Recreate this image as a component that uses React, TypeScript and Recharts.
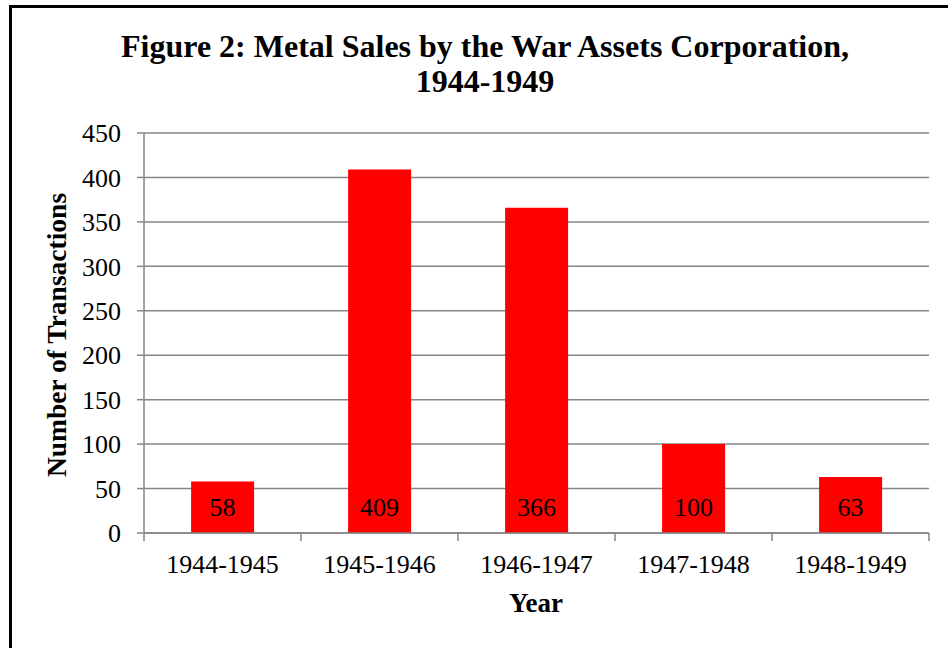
import React from "react";
import { BarChart, Bar, XAxis, YAxis, CartesianGrid, LabelList } from "recharts";

const YEARS = ["1944-1945", "1945-1946", "1946-1947", "1947-1948", "1948-1949"];
const TRANSACTIONS = [58, 409, 366, 100, 63];
const Y_TICKS = [0, 50, 100, 150, 200, 250, 300, 350, 400, 450];

const FONT = '"Liberation Serif", "Times New Roman", serif';
const GRID = "#868686";

const W = 948;
const H = 648;
const MARGIN = { top: 133, right: 19, bottom: 75, left: 84 };
const Y_AXIS_W = 60;
const X_AXIS_H = 40;
const PLOT_W = W - MARGIN.left - MARGIN.right - Y_AXIS_W;
const BAND = PLOT_W / YEARS.length;

const data = YEARS.map((year, i) => ({ year, count: TRANSACTIONS[i] }));

// category label in the middle, tick marks on the band edges (Excel style)
function YearTick(props: any) {
  const { x, y, payload, index } = props;
  const left = x - BAND / 2;
  return (
    <g>
      <line x1={left} y1={y} x2={left} y2={y + 8} stroke={GRID} strokeWidth={1.5} />
      {index === YEARS.length - 1 && (
        <line x1={x + BAND / 2} y1={y} x2={x + BAND / 2} y2={y + 8} stroke={GRID} strokeWidth={1.5} />
      )}
      <text x={x} y={y + 40} textAnchor="middle" fontFamily={FONT} fontSize={26} fill="#000">
        {payload.value}
      </text>
    </g>
  );
}

function BaseLabel(props: any) {
  const { x, y, width, height, value } = props;
  return (
    <text
      x={x + width / 2}
      y={y + height - 26}
      textAnchor="middle"
      dominantBaseline="central"
      fontFamily={FONT}
      fontSize={26}
      fill="#000"
    >
      {value}
    </text>
  );
}

export default function App() {
  return (
    <div style={{ position: "absolute", left: 0, top: 0, width: W, height: H, background: "#fff" }}>
      <BarChart width={W} height={H} data={data} margin={MARGIN} barCategoryGap="30%">
        <CartesianGrid vertical={false} stroke={GRID} strokeWidth={1.5} />
        <XAxis
          dataKey="year"
          height={X_AXIS_H}
          interval={0}
          axisLine={{ stroke: GRID, strokeWidth: 1.5 }}
          tickLine={false}
          tickSize={0}
          tickMargin={0}
          tick={<YearTick />}
        />
        <YAxis
          width={Y_AXIS_W}
          domain={[0, 450]}
          ticks={Y_TICKS}
          interval={0}
          axisLine={{ stroke: GRID, strokeWidth: 1.5 }}
          tickLine={{ stroke: GRID, strokeWidth: 1.5 }}
          tickSize={7}
          tickMargin={16}
          tick={{ fontFamily: FONT, fontSize: 26, fill: "#000" }}
        />
        <Bar dataKey="count" fill="#ff0000" isAnimationActive={false}>
          <LabelList dataKey="count" content={<BaseLabel />} />
        </Bar>
      </BarChart>

      <svg
        width={W}
        height={H}
        style={{ position: "absolute", left: 0, top: 0, pointerEvents: "none" }}
      >
        <line x1={10.5} y1={5} x2={10.5} y2={H} stroke="#000" strokeWidth={3} />
        <line x1={9} y1={6.5} x2={W} y2={6.5} stroke="#000" strokeWidth={3} />
        <text x={485} y={57} textAnchor="middle" fontFamily={FONT} fontWeight="bold" fontSize={32}>
          Figure 2: Metal Sales by the War Assets Corporation,
        </text>
        <text x={485} y={92} textAnchor="middle" fontFamily={FONT} fontWeight="bold" fontSize={32}>
          1944-1949
        </text>
        <text
          transform="translate(66,335) rotate(-90)"
          textAnchor="middle"
          fontFamily={FONT}
          fontWeight="bold"
          fontSize={27.5}
        >
          Number of Transactions
        </text>
        <text x={536} y={612} textAnchor="middle" fontFamily={FONT} fontWeight="bold" fontSize={27}>
          Year
        </text>
      </svg>
    </div>
  );
}
